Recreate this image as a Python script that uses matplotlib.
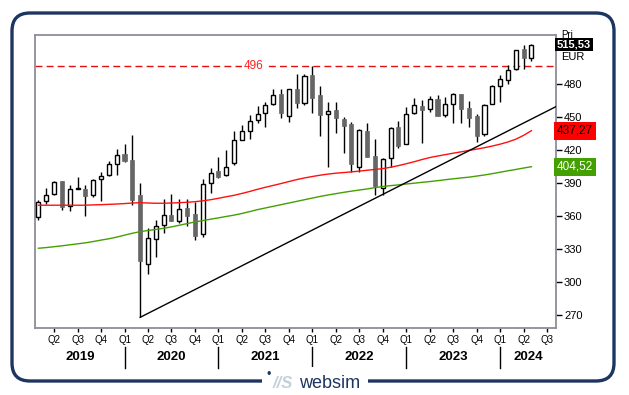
#!/usr/bin/env python3
"""Monthly candlestick chart with moving averages, trend line and 496 resistance."""
import matplotlib
matplotlib.use("Agg")
import matplotlib.pyplot as plt
import numpy as np
from matplotlib.patches import FancyBboxPatch, Rectangle

plt.rcParams["font.family"] = ["Liberation Sans", "DejaVu Sans"]

# monthly candles, Feb 2019 .. May 2024
opens = [358.5, 373.0, 379.5, 391.5, 368.8, 384.5, 384.0, 379.0, 393.0, 396.7,
         406.7, 416.0, 410.6, 378.8, 315.8, 338.5, 351.3, 360.6, 355.5, 366.7,
         361.5, 343.0, 389.5, 400.6, 396.7, 407.6, 428.8, 437.0, 447.0, 453.0,
         461.3, 470.3, 451.0, 475.0, 462.7, 487.9, 469.3, 452.5, 456.0, 448.0,
         443.0, 404.5, 437.0, 414.3, 385.5, 412.7, 441.0, 425.0, 453.0, 459.7,
         456.7, 466.0, 451.5, 461.3, 470.6, 457.6, 450.6, 434.0, 461.5, 477.8,
         483.6, 493.0, 511.2, 503.0]
highs = [374.3, 385.0, 391.5, 391.5, 387.6, 395.0, 387.6, 393.6, 399.4, 409.4,
         420.6, 424.9, 433.4, 389.5, 348.5, 356.0, 374.9, 379.7, 374.9, 374.9,
         372.7, 393.0, 403.0, 413.0, 419.7, 437.0, 442.5, 451.5, 460.0, 463.4,
         474.9, 475.0, 475.2, 489.0, 489.0, 496.0, 477.5, 463.4, 463.0, 449.4,
         445.0, 438.8, 444.0, 429.4, 412.2, 440.5, 446.0, 459.0, 467.3, 465.0,
         468.8, 469.7, 467.8, 471.7, 470.8, 464.3, 452.0, 461.5, 479.0, 487.5,
         496.6, 511.0, 515.2, 516.0]
lows = [356.0, 370.6, 379.0, 365.0, 364.5, 384.0, 359.7, 377.3, 373.6, 396.5,
        396.7, 409.0, 369.7, 267.6, 306.7, 322.7, 344.5, 355.5, 353.6, 350.6,
        337.9, 340.9, 380.9, 394.0, 396.5, 406.0, 428.5, 429.4, 444.0, 441.0,
        461.0, 449.0, 445.5, 458.0, 460.4, 453.6, 432.7, 404.5, 435.5, 416.7,
        399.5, 399.5, 413.0, 378.8, 378.8, 404.0, 421.3, 424.8, 452.5, 426.4,
        454.5, 450.5, 449.4, 444.0, 444.0, 441.0, 427.3, 432.5, 461.3, 463.7,
        480.0, 492.8, 493.0, 500.6]
closes = [372.2, 378.5, 390.4, 368.2, 384.0, 385.3, 378.2, 392.2, 395.8, 406.7,
          414.9, 410.0, 374.3, 319.0, 339.5, 350.6, 360.6, 355.5, 365.8, 360.0,
          341.8, 388.8, 398.5, 394.9, 404.0, 428.8, 437.0, 446.0, 452.2, 460.3,
          469.4, 453.6, 475.0, 462.2, 486.6, 467.3, 451.8, 455.2, 449.0, 441.8,
          406.7, 437.6, 413.6, 387.3, 411.5, 439.4, 423.6, 452.5, 460.6, 456.0,
          466.0, 451.0, 461.5, 470.3, 457.0, 449.0, 432.7, 460.3, 477.5, 484.5,
          492.7, 510.6, 503.0, 515.53]

ma_red = [369.5, 369.5, 369.5, 369.5, 369.5, 369.5, 369.5, 369.8, 370.0, 370.3,
          370.6, 371.0, 371.5, 371.8, 371.5, 371.3, 371.3, 371.5, 371.8, 372.2,
          372.7, 373.5, 374.5, 375.8, 377.2, 378.5, 380.2, 382.0, 384.0, 385.8,
          387.5, 389.2, 391.0, 392.8, 394.3, 395.6, 396.8, 397.8, 398.6, 399.2,
          399.8, 400.5, 401.3, 402.0, 402.8, 404.0, 405.5, 407.2, 409.0, 411.0,
          412.8, 414.2, 415.5, 416.8, 418.0, 419.3, 420.5, 421.8, 423.3, 425.0,
          427.0, 429.5, 433.0, 437.27]
ma_green = [330.4, 331.0, 331.8, 332.6, 333.5, 334.4, 335.3, 336.5, 337.8, 339.0,
            340.5, 342.3, 344.0, 345.5, 346.5, 347.5, 348.5, 349.8, 351.3, 352.8,
            354.3, 355.5, 356.8, 358.0, 359.3, 360.5, 362.0, 363.7, 365.5, 367.0,
            368.5, 370.0, 371.5, 373.0, 374.5, 376.0, 377.5, 378.8, 380.0, 381.2,
            382.3, 383.3, 384.3, 385.5, 386.5, 387.3, 388.0, 388.8, 389.5, 390.3,
            391.0, 391.8, 392.7, 393.5, 394.3, 395.0, 396.0, 397.0, 398.2, 399.5,
            400.8, 402.0, 403.3, 404.52]

trend_x = [13, 66.1]
trend_y = [267.6, 459.0]
resistance = 496

quarter_labels = ["Q2", "Q3", "Q4", "Q1"]
years = ["2019", "2020", "2021", "2022", "2023", "2024"]
y_ticks = [270, 300, 330, 360, 390, 420, 450, 480]

NAVY = "#1c3561"
FRAME = "#8e8e9c"
BODY_DN = "#666666"

W, H = 629, 395
fig = plt.figure(figsize=(W / 100, H / 100), dpi=100)
ax = fig.add_axes([35.3 / W, 1 - 328 / H, (555.7 - 35.3) / W, (328 - 34.7) / H])

x = np.arange(len(opens))
o, h, l, c = map(np.array, (opens, highs, lows, closes))
up = c >= o

ax.vlines(x, l, h, color="black", lw=1, zorder=2)
body = np.maximum(np.abs(c - o), 0.6)
ax.bar(x[up], body[up], bottom=o[up], width=0.52, color="white",
       edgecolor="black", linewidth=1, zorder=3)
ax.bar(x[~up], body[~up], bottom=c[~up], width=0.52, color=BODY_DN,
       edgecolor=BODY_DN, linewidth=0.5, zorder=3)

ax.plot(x, ma_red, color="#ff1010", lw=1, zorder=4)
ax.plot(x, ma_green, color="#44a000", lw=1, zorder=4)
ax.plot(trend_x, trend_y, color="black", lw=1, zorder=4)

ax.axhline(resistance, color="#e01010", lw=1, dashes=(5, 3), zorder=1)
ax.text(27.5, resistance, str(resistance), color="#ff2020", fontsize=8.5,
        ha="center", va="center", zorder=5,
        bbox=dict(boxstyle="square,pad=0.15", fc="white", ec="none"))

ax.set_xlim(-0.4, 66.1)
ax.set_ylim(257.9, 524.5)

for sp in ax.spines.values():
    sp.set_color(FRAME)
    sp.set_linewidth(1.3)

ax.yaxis.tick_right()
ax.set_yticks(y_ticks)
ax.tick_params(axis="y", direction="out", length=4, width=1, colors="black",
               labelsize=8, pad=2)

q_pos = np.arange(2, 66, 3)
ax.set_xticks(q_pos)
ax.set_xticklabels([quarter_labels[k % 4] for k in range(len(q_pos))])
ax.tick_params(axis="x", direction="out", length=3, width=1, colors="black",
               labelsize=7, pad=2)

# year separators and labels
tr = ax.get_xaxis_transform()
seps = [11, 23, 35, 47, 59]
for s in seps:
    ax.plot([s, s], [-0.065, -0.135], transform=tr, color="black", lw=1,
            clip_on=False)
edges = [-0.4] + seps + [66.1]
for k, yr in enumerate(years):
    ax.text((edges[k] + edges[k + 1]) / 2, -0.098, yr, transform=tr,
            ha="center", va="center", fontsize=9.5, fontweight="bold",
            clip_on=False)

# right-side value boxes
ytr = ax.get_yaxis_transform()
ax.text(1.01, 524.5, "Pri", transform=ytr, fontsize=7, va="center", ha="left",
        clip_on=False)
ax.text(1.002, closes[-1], "515,53", transform=ytr, fontsize=8, color="white",
        fontweight="bold", va="center", ha="left", clip_on=False,
        bbox=dict(boxstyle="square,pad=0.15", fc="black", ec="none"))
ax.text(1.01, 504.5, "EUR", transform=ytr, fontsize=8, va="center", ha="left",
        clip_on=False)
ax.text(1.002, ma_red[-1], "437,27", transform=ytr, fontsize=8.5, color="black",
        va="center", ha="left", clip_on=False,
        bbox=dict(boxstyle="square,pad=0.25", fc="#ff0000", ec="none"))
ax.text(1.002, ma_green[-1], "404,52", transform=ytr, fontsize=8.5, color="white",
        va="center", ha="left", clip_on=False,
        bbox=dict(boxstyle="square,pad=0.25", fc="#44a000", ec="none"))

# card border with logo gap
card = FancyBboxPatch((0.12, 0.14), 6.02, 3.68, transform=fig.dpi_scale_trans,
                      boxstyle="round,pad=0,rounding_size=0.18", fc="none",
                      ec=NAVY, lw=2.4)
fig.add_artist(card)
fig.add_artist(Rectangle((2.62, 0.0), 1.06, 0.28, transform=fig.dpi_scale_trans,
                         fc="white", ec="none"))
fig.text(2.69, 0.20, "\u2022", transform=fig.dpi_scale_trans, color=NAVY,
         fontsize=9, ha="center", va="center")
fig.text(2.73, 0.12, "//S", transform=fig.dpi_scale_trans, color="#c5d0dc",
         fontsize=12, fontweight="bold", style="italic", ha="left", va="center")
fig.text(2.99, 0.12, "websim", transform=fig.dpi_scale_trans, color=NAVY,
         fontsize=13, ha="left", va="center")

fig.savefig("out.png", dpi=100)
